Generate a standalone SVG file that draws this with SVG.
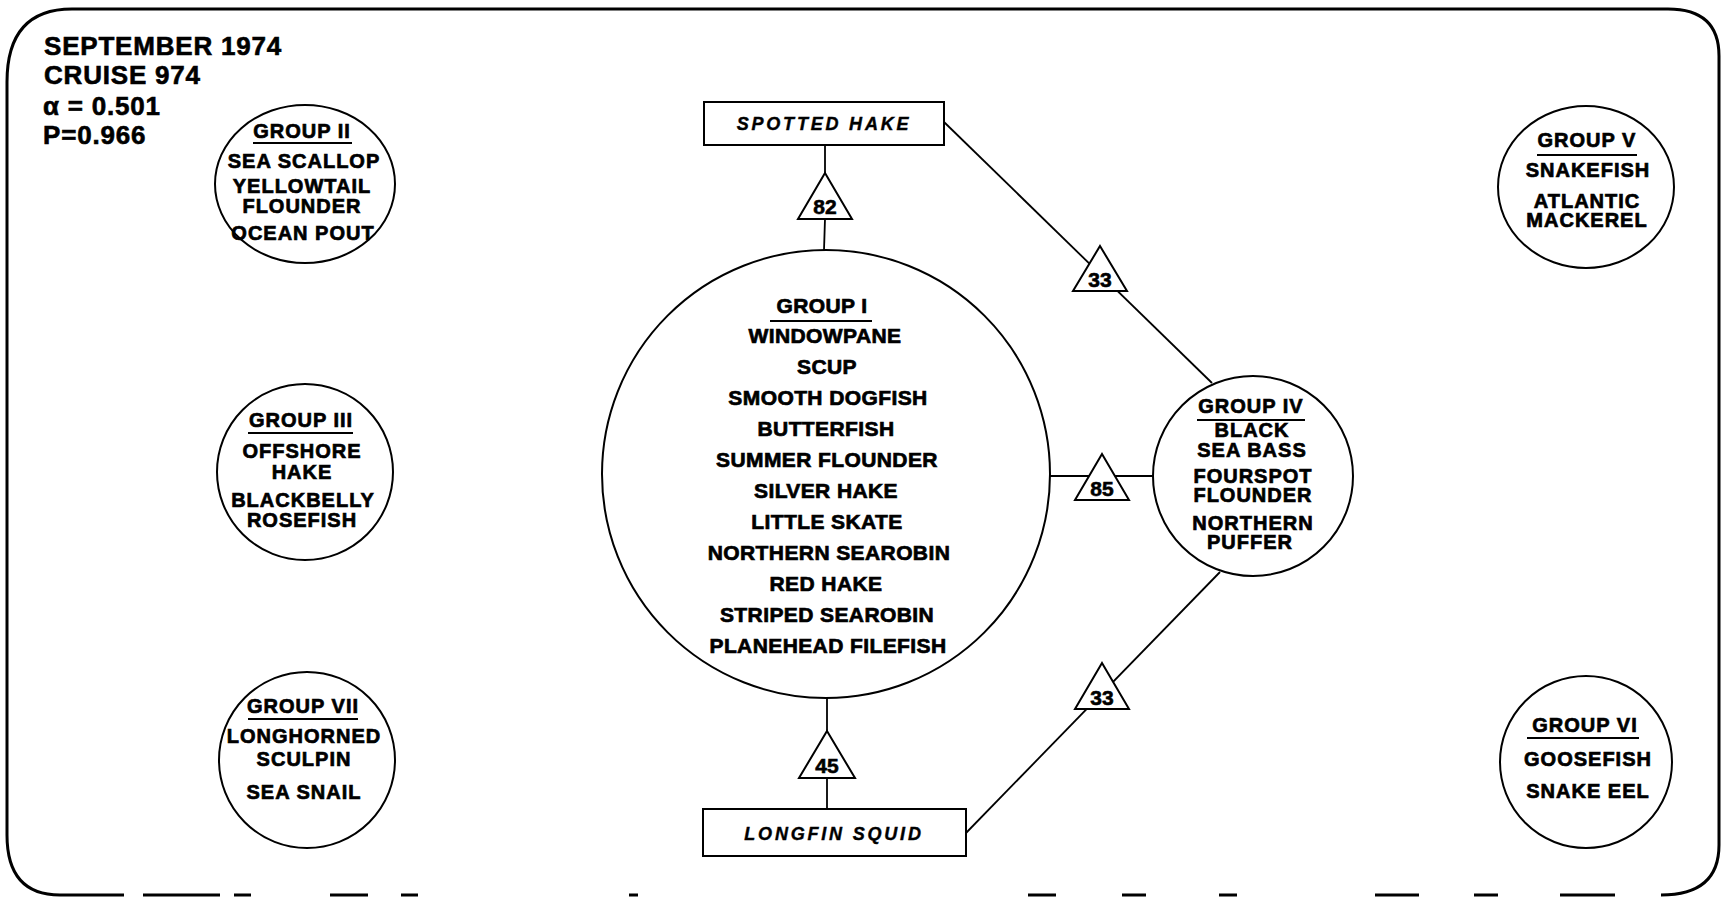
<svg xmlns="http://www.w3.org/2000/svg" width="1724" height="902" viewBox="0 0 1724 902">
<style>
.t{font-family:"Liberation Sans",Arial,Helvetica,sans-serif;font-weight:bold;fill:#000;stroke:#000;stroke-width:0.7;text-anchor:middle;font-size:20px;letter-spacing:1px}
.g1{font-size:21px;letter-spacing:0.4px}
.hd{font-family:"Liberation Sans",Arial,Helvetica,sans-serif;font-weight:bold;fill:#000;stroke:#000;stroke-width:0.6;font-size:26px;letter-spacing:0.8px}
.it{font-family:"Liberation Sans",Arial,Helvetica,sans-serif;font-weight:bold;font-style:italic;fill:#000;stroke:#000;stroke-width:0.4;text-anchor:middle;font-size:18px;letter-spacing:2.8px}
.num{font-family:"Liberation Sans",Arial,Helvetica,sans-serif;font-weight:bold;fill:#000;stroke:#000;stroke-width:0.6;text-anchor:middle;font-size:21px}
.node{fill:#fff;stroke:#000;stroke-width:2}
.ul{stroke:#000;stroke-width:2}
.con{stroke:#000;stroke-width:1.8;fill:none}
.tri{fill:#fff;stroke:#000;stroke-width:2;stroke-linejoin:miter}
.bd{stroke:#000;stroke-width:3;fill:none}
</style>
<rect x="0" y="0" width="1724" height="902" fill="#fff"/>

<g id="border">
<path class="bd" d="M 60,895 Q 7,895 7,835 L 7,82 Q 7,9 72,9 L 1668,9 Q 1719,9 1719,56 L 1719,845 Q 1719,895 1661,895"/>
<path class="bd" d="M 60,895 L 124,895 M 143,895 L 220,895 M 234,895 L 251,895 M 330,895 L 368,895 M 401,895 L 418,895 M 629,895 L 638,895 M 1028,895 L 1056,895 M 1122,895 L 1146,895 M 1219,895 L 1237,895 M 1375,895 L 1419,895 M 1474,895 L 1498,895 M 1560,895 L 1615,895"/>
</g>

<g id="title">
<text class="hd" x="44" y="55">SEPTEMBER 1974</text>
<text class="hd" x="44" y="84">CRUISE 974</text>
<text class="hd" x="43" y="115">α = 0.501</text>
<text class="hd" x="43" y="144">P=0.966</text>
</g>

<g id="connectors">
<line class="con" x1="825" y1="145" x2="825" y2="173"/>
<line class="con" x1="825" y1="219" x2="824" y2="250"/>
<line class="con" x1="827" y1="698" x2="827" y2="731"/>
<line class="con" x1="827" y1="778" x2="827" y2="809"/>
<line class="con" x1="944" y1="122" x2="1212" y2="383"/>
<line class="con" x1="1050" y1="476" x2="1154" y2="476"/>
<line class="con" x1="1220" y1="572" x2="966" y2="833"/>
<polygon class="tri" points="825,173 852,219 798,219"/>
<text class="num" x="825" y="214">82</text>
<polygon class="tri" points="827,731 855,778 799,778"/>
<text class="num" x="827" y="773">45</text>
<polygon class="tri" points="1100,246 1127,291 1073,291"/>
<text class="num" x="1100" y="287">33</text>
<polygon class="tri" points="1102,454 1129,500 1075,500"/>
<text class="num" x="1102" y="496">85</text>
<polygon class="tri" points="1102,663 1129,709 1075,709"/>
<text class="num" x="1102" y="705">33</text>
</g>

<g id="spotted-hake">
<rect class="node" x="704" y="102" width="240" height="43"/>
<text class="it" x="824" y="130">SPOTTED HAKE</text>
</g>

<g id="longfin-squid">
<rect class="node" x="703" y="809" width="263" height="47"/>
<text class="it" x="834" y="840">LONGFIN SQUID</text>
</g>

<g id="group-1">
<circle class="node" cx="826" cy="474" r="224" stroke-width="2.6"/>
<text class="t g1" x="822" y="313">GROUP I</text>
<line class="ul" x1="770" y1="321" x2="872" y2="321"/>
<text class="t g1" x="825" y="343">WINDOWPANE</text>
<text class="t g1" x="827" y="374">SCUP</text>
<text class="t g1" x="828" y="405">SMOOTH DOGFISH</text>
<text class="t g1" x="826" y="436">BUTTERFISH</text>
<text class="t g1" x="827" y="467">SUMMER FLOUNDER</text>
<text class="t g1" x="826" y="498">SILVER HAKE</text>
<text class="t g1" x="827" y="529">LITTLE SKATE</text>
<text class="t g1" x="829" y="560">NORTHERN SEAROBIN</text>
<text class="t g1" x="826" y="591">RED HAKE</text>
<text class="t g1" x="827" y="622">STRIPED SEAROBIN</text>
<text class="t g1" x="828" y="653">PLANEHEAD FILEFISH</text>
</g>

<g id="group-2">
<ellipse class="node" cx="305" cy="184" rx="90" ry="79"/>
<text class="t" x="302" y="138">GROUP II</text>
<line class="ul" x1="253" y1="143" x2="352" y2="143"/>
<text class="t" x="304" y="168">SEA SCALLOP</text>
<text class="t" x="302" y="193">YELLOWTAIL</text>
<text class="t" x="302" y="213">FLOUNDER</text>
<text class="t" x="303" y="240">OCEAN POUT</text>
</g>

<g id="group-3">
<circle class="node" cx="305" cy="472" r="88"/>
<text class="t" x="301" y="427">GROUP III</text>
<line class="ul" x1="248" y1="433" x2="353" y2="433"/>
<text class="t" x="302" y="458">OFFSHORE</text>
<text class="t" x="302" y="479">HAKE</text>
<text class="t" x="303" y="507">BLACKBELLY</text>
<text class="t" x="302" y="527">ROSEFISH</text>
</g>

<g id="group-4">
<circle class="node" cx="1253" cy="476" r="100"/>
<text class="t" x="1251" y="413">GROUP IV</text>
<line class="ul" x1="1197" y1="420" x2="1305" y2="420"/>
<text class="t" x="1252" y="437">BLACK</text>
<text class="t" x="1252" y="457">SEA BASS</text>
<text class="t" x="1253" y="483">FOURSPOT</text>
<text class="t" x="1253" y="502">FLOUNDER</text>
<text class="t" x="1253" y="530">NORTHERN</text>
<text class="t" x="1250" y="549">PUFFER</text>
</g>

<g id="group-5">
<ellipse class="node" cx="1586" cy="187" rx="88" ry="81"/>
<text class="t" x="1587" y="147">GROUP V</text>
<line class="ul" x1="1537" y1="155" x2="1637" y2="155"/>
<text class="t" x="1588" y="177">SNAKEFISH</text>
<text class="t" x="1587" y="208">ATLANTIC</text>
<text class="t" x="1587" y="227">MACKEREL</text>
</g>

<g id="group-6">
<circle class="node" cx="1586" cy="762" r="86"/>
<text class="t" x="1585" y="732">GROUP VI</text>
<line class="ul" x1="1527" y1="738" x2="1639" y2="738"/>
<text class="t" x="1588" y="766">GOOSEFISH</text>
<text class="t" x="1588" y="798">SNAKE EEL</text>
</g>

<g id="group-7">
<circle class="node" cx="307" cy="760" r="88"/>
<text class="t" x="303" y="713">GROUP VII</text>
<line class="ul" x1="248" y1="719" x2="358" y2="719"/>
<text class="t" x="304" y="743">LONGHORNED</text>
<text class="t" x="304" y="766">SCULPIN</text>
<text class="t" x="304" y="799">SEA SNAIL</text>
</g>
</svg>
